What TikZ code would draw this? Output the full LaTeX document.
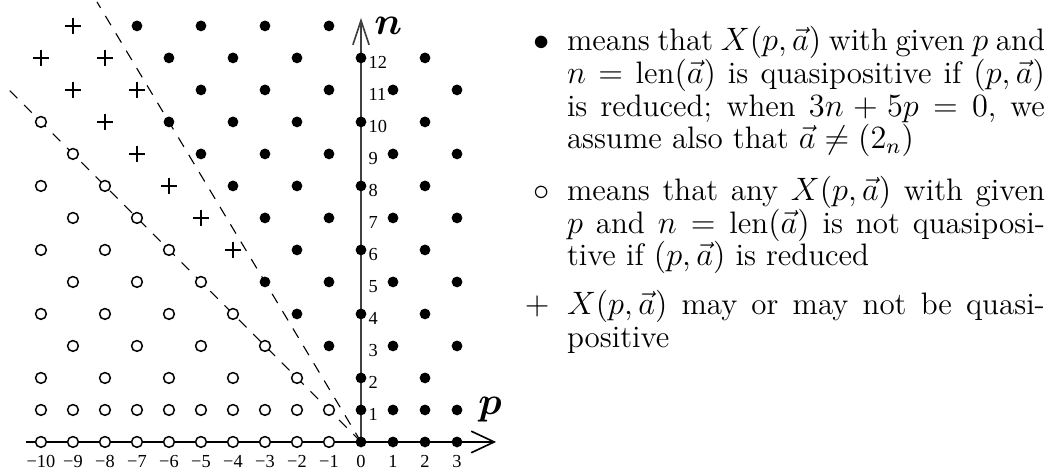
\documentclass[tikz,border=0pt]{standalone}
\usepackage{amsmath,amssymb,bm}
\usepackage{fontspec}
\newfontfamily\ticksfont{Liberation Serif}
\usetikzlibrary{arrows.meta,shapes.misc}

\begin{document}
\begin{tikzpicture}[
  x=0.4166cm, y=0.4166cm,
  qpdot/.style={circle, fill=black, inner sep=0pt, minimum size=4pt},
  nqcirc/.style={circle, draw=black, fill=white, line width=0.55pt, inner sep=0pt, minimum size=4pt},
  unkplus/.style={cross out, draw=black, line width=0.5pt, rotate=45, inner sep=0pt, minimum size=3.5pt},
  bound/.style={draw=black, line width=0.4pt, dash pattern=on 4pt off 3.5pt},
  paxis/.style={-{Straight Barb[length=8.5pt,width=8pt]}, line width=0.6pt},
  naxis/.style={-{Straight Barb[length=9pt,width=6pt]}, line width=0.6pt, draw=black!75},
  ticklab/.style={font=\ticksfont\fontsize{6.8}{7}\selectfont, inner sep=0pt},
  axislab/.style={font=\Large, inner sep=0pt},
  legitem/.style={anchor=north west, inner sep=0pt, text width=177pt, align=justify,
    font=\fontsize{11.5}{12.1}\selectfont}
]
  \useasboundingbox (-11.28,-0.94) rectangle (21.81,13.81);

  % axes and the two boundary lines
  \coordinate (O) at (0,0);
  \coordinate (pmin) at (-10.47,0);
  \coordinate (pmax) at (4.22,0);
  \coordinate (nmax) at (0,13.25);
  \coordinate (bnd1) at (-8.25,13.75);
  \coordinate (bnd2) at (-11,11);
  \draw[bound] (O) -- (bnd1);
  \draw[bound] (O) -- (bnd2);
  \draw[paxis] (pmin) -- (pmax);
  \draw[naxis] (O) -- (nmax);

  % quasipositive
  \foreach \n/\plist in {0/{0,1,2,3}, 1/{0,1,2,3}, 2/{0,2}, 3/{-1,1,3}, 4/{-2,0,2},
      5/{-3,-1,1,3}, 6/{-2,0,2}, 7/{-3,-1,1,3}, 8/{-4,-2,0,2}, 9/{-5,-3,-1,1,3},
      10/{-6,-4,-2,0,2}, 11/{-5,-3,-1,1,3}, 12/{-6,-4,-2,0,2}, 13/{-7,-5,-3,-1}}
    \foreach \p in \plist
      \node[qpdot] (dot\p n\n) at (\p,\n) {};
  % not quasipositive
  \foreach \n/\plist in {0/{-10,...,-1}, 1/{-10,...,-1}, 2/{-10,-8,...,-2}, 3/{-9,-7,...,-3},
      4/{-10,-8,-6,-4}, 5/{-9,-7,-5}, 6/{-10,-8,-6}, 7/{-9,-7}, 8/{-10,-8}, 9/{-9}, 10/{-10}}
    \foreach \p in \plist
      \node[nqcirc] (circ\p n\n) at (\p,\n) {};
  % undecided
  \foreach \n/\plist in {6/{-4}, 7/{-5}, 8/{-6}, 9/{-7}, 10/{-8}, 11/{-9,-7}, 12/{-10,-8}, 13/{-9}}
    \foreach \p in \plist
      \node[unkplus] (plus\p n\n) at (\p,\n) {};

  % tick labels
  \foreach \n in {1,...,12}
    \node[ticklab, anchor=west] (ntick\n) at (0.22,\n-0.14) {\n};
  \foreach \p in {-10,...,3}
    \node[ticklab, anchor=base] (ptick\p) at (\p,-0.81) {\ifnum\p<0 −\number-\p\else\p\fi};
  \node[axislab] (nlab) at (0.85,13.0) {$\boldsymbol{n}$};
  \node[axislab] (plab) at (4.03,1.0) {$\boldsymbol{p}$};

  % legend
  \node[legitem] (item1) at (6.42,13.00) {\noindent\llap{$\bullet$\hspace{6.5pt}}means that
    $X(p,\vec a)$ with given $p$ and\linebreak $n=\operatorname{len}(\vec a)$ is quasipositive
    if $(p,\vec a)$\linebreak is reduced; when $3n+5p=0$, we\linebreak assume also that
    $\vec a\neq(2_n)$};
  \node[legitem] (item2) at (6.42,8.32) {\noindent\llap{$\circ$\hspace{6.5pt}}means that any
    $X(p,\vec a)$ with given\linebreak $p$ and $n=\operatorname{len}(\vec a)$ is not
    quasiposi-\linebreak tive if $(p,\vec a)$ is reduced};
  \node[legitem] (item3) at (6.42,4.76) {\noindent\llap{$+$\hspace{6.5pt}}$X(p,\vec a)$ may
    or may not be quasi-\linebreak positive};
\end{tikzpicture}
\end{document}
